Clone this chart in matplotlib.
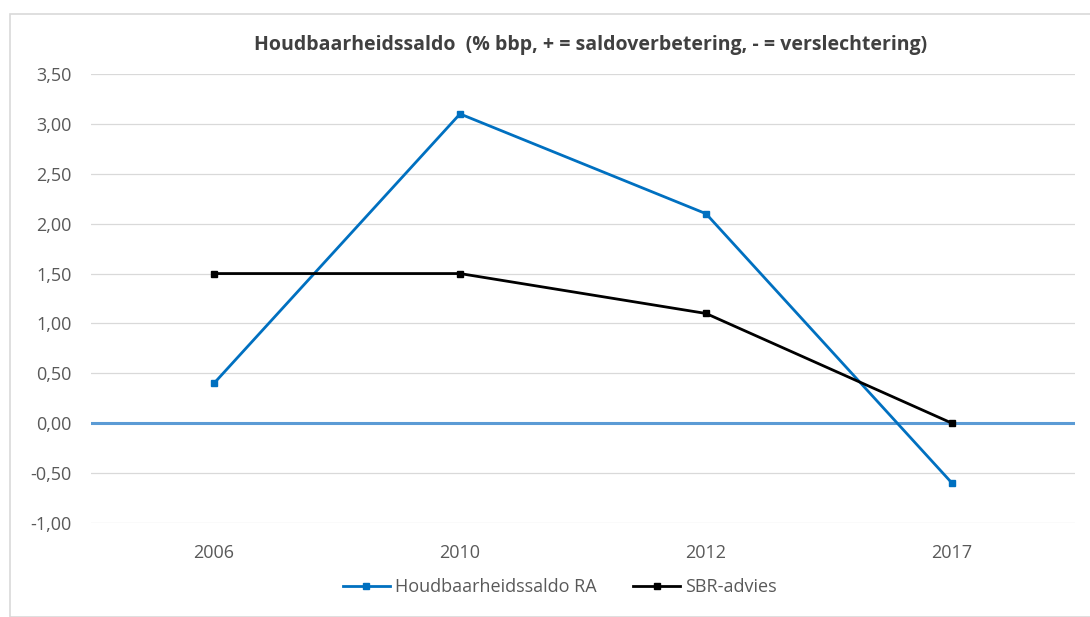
import matplotlib.pyplot as plt
from matplotlib.patches import Rectangle
from matplotlib.ticker import FuncFormatter

years = ['2006', '2010', '2012', '2017']
saldo_ra = [0.40, 3.10, 2.10, -0.60]
sbr_advies = [1.50, 1.50, 1.10, 0.00]
y_ticks = [-1.0, -0.5, 0.0, 0.5, 1.0, 1.5, 2.0, 2.5, 3.0, 3.5]

plt.rcParams['font.family'] = ['Open Sans', 'DejaVu Sans']

fig = plt.figure(figsize=(10.9, 6.17), dpi=100)
fig.patches.append(Rectangle((10 / 1090, 0), 1.0, 1 - 14 / 617, transform=fig.transFigure,
                             fill=False, edgecolor='#D9D9D9', linewidth=1.2))

ax = fig.add_axes([91 / 1090, 1 - 523 / 617, 984 / 1090, 449 / 617])
x = list(range(len(years)))

for t in y_ticks:
    if t != 0:
        ax.axhline(t, color='#D9D9D9', linewidth=0.9, zorder=0)
ax.axhline(0, color='#5B9BD5', linewidth=2.2, zorder=1)

ax.plot(x, saldo_ra, color='#0070C0', linewidth=2.0, marker='s', markersize=4,
        label='Houdbaarheidssaldo RA', zorder=3)
ax.plot(x, sbr_advies, color='#000000', linewidth=2.0, marker='s', markersize=4,
        label='SBR-advies', zorder=3)

ax.set_xlim(-0.5, len(years) - 0.5)
ax.set_ylim(-1.0, 3.5)
ax.set_xticks(x)
ax.set_xticklabels(years)
ax.set_yticks(y_ticks)
ax.yaxis.set_major_formatter(FuncFormatter(lambda v, p: f'{v:.2f}'.replace('.', ',')))
ax.tick_params(length=0, labelsize=13, colors='#595959', pad=14)
ax.tick_params(axis='x', pad=15)
for s in ax.spines.values():
    s.set_visible(False)

fig.text(591 / 1090, 1 - 45 / 617,
         'Houdbaarheidssaldo  (% bbp, + = saldoverbetering, - = verslechtering)',
         ha='center', va='center', fontsize=14, fontweight='bold', color='#404040')

fig.legend(loc='center', bbox_to_anchor=(560 / 1090, 1 - 587 / 617), ncol=2, frameon=False,
           fontsize=13, labelcolor='#595959', handlelength=2.6, columnspacing=2.0, handletextpad=0.3)

fig.savefig('out.png', dpi=100)
